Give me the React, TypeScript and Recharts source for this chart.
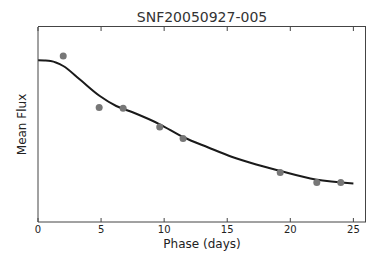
import { ComposedChart, Line, Scatter, XAxis, YAxis } from "recharts";

// observed points
const obsPhase = [2.0, 4.85, 6.75, 9.65, 11.5, 19.2, 22.1, 24.0];
const obsFlux = [166, 114.4, 113.7, 95, 83.4, 49.4, 39.4, 39.4];

// model light curve
const modelPhase = [0, 0.5, 1, 2, 3.3, 4.9, 6.2, 7.5, 9.65, 11.5, 13.5, 15.4, 17.3, 19.2, 22, 25];
const modelFlux = [161.7, 161.5, 161, 156, 142.7, 126, 116, 109.7, 97.7, 85, 74.5, 65, 57.5, 51, 42.4, 38.4];

const xTicks = [0, 5, 10, 15, 20, 25];
const xMax = 26;
const yMax = 195;

const obs = obsPhase.map((p, i) => ({ phase: p, flux: obsFlux[i] }));
const model = modelPhase.map((p, i) => ({ phase: p, flux: modelFlux[i] }));

const FONT = "DejaVu Sans, sans-serif";
const FRAME = "#444";
const PLOT = { left: 38, top: 27, width: 328, height: 195 };

// tick label plus inward tick marks on the top of the frame
function PhaseTick(props: any) {
  const { x, y, payload } = props;
  return (
    <g>
      <line x1={x} x2={x} y1={PLOT.top} y2={PLOT.top + 4} stroke={FRAME} />
      <text x={x} y={y} dy="0.71em" textAnchor="middle" fontSize={10} fontFamily={FONT} fill="#222">
        {payload.value}
      </text>
    </g>
  );
}

export default function App() {
  return (
    <div style={{ position: "absolute", left: 0, top: 0, width: 374, height: 262, fontFamily: FONT }}>
      <div
        style={{
          position: "absolute",
          left: PLOT.left,
          top: 7,
          width: PLOT.width,
          textAlign: "center",
          fontSize: 14,
          lineHeight: "20px",
          color: "#333",
        }}
      >
        SNF20050927-005
      </div>
      <ComposedChart width={374} height={262} margin={{ top: PLOT.top, right: 8, bottom: 0, left: 0 }}>
        <XAxis
          dataKey="phase"
          type="number"
          domain={[0, xMax]}
          allowDataOverflow
          ticks={xTicks}
          height={40}
          stroke={FRAME}
          tickSize={-4}
          tickMargin={8}
          tick={<PhaseTick />}
          label={{ value: "Phase (days)", position: "center", dy: 2, fontSize: 12, fontFamily: FONT, fill: "#222" }}
        />
        <YAxis
          type="number"
          domain={[0, yMax]}
          allowDataOverflow
          width={38}
          stroke={FRAME}
          tick={false}
          tickLine={false}
          label={{ value: "Mean Flux", angle: -90, position: "center", dx: 3, fontSize: 12, fontFamily: FONT, fill: "#222" }}
        />
        <Scatter
          data={obs}
          dataKey="flux"
          fill="#777"
          shape={(p: any) => <circle cx={p.cx} cy={p.cy} r={3.5} fill="#777" />}
          isAnimationActive={false}
        />
        <Line
          data={model}
          dataKey="flux"
          type="monotone"
          stroke="#1a1a1a"
          strokeWidth={2}
          dot={false}
          isAnimationActive={false}
        />
      </ComposedChart>
      <div
        style={{
          position: "absolute",
          left: PLOT.left,
          top: PLOT.top - 1,
          width: PLOT.width,
          height: PLOT.height + 1,
          borderTop: `1px solid ${FRAME}`,
          borderRight: `1px solid ${FRAME}`,
          boxSizing: "border-box",
          pointerEvents: "none",
        }}
      />
    </div>
  );
}
